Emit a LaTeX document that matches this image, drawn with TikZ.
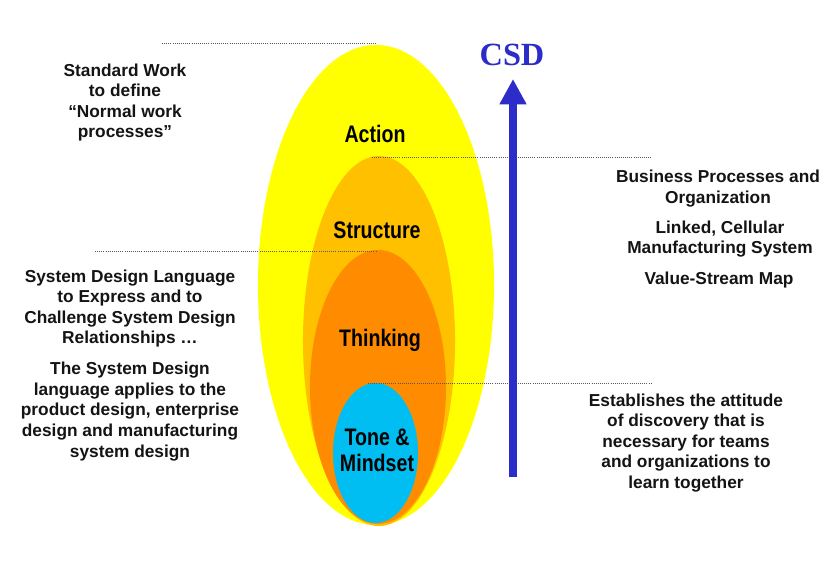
\documentclass[tikz,border=0pt]{standalone}
\usepackage{fontspec}
\setmainfont{Liberation Sans}
\newfontfamily\narrowsans[FakeStretch=0.82]{Liberation Sans}
\newfontfamily\csdserif{Liberation Serif}
\usepackage{xcolor}
\usepackage{tikz}
\usetikzlibrary{
  arrows.meta,
  calc
}
\definecolor{csdblue}{RGB}{44,44,200}
\definecolor{actionyellow}{RGB}{255,255,0}
\definecolor{structorange}{RGB}{255,192,0}
\definecolor{thinkorange}{RGB}{255,140,0}
\definecolor{tonecyan}{RGB}{0,190,242}
\definecolor{notegray}{RGB}{20,20,20}
\tikzset{
  note/.style={
    align=center,
    text=notegray,
    font=\fontsize{12.3}{14.6}\selectfont\bfseries},
  layer/.style={
    align=center,
    font=\narrowsans\fontsize{17}{18.5}\selectfont\bfseries},
  leader/.style={
    densely dotted,
    line width=0.5pt,
    gray!70!black},
  csd/.style={
    -{Triangle[width=18pt,length=18pt]},
    line width=5pt,
    csdblue}
  }

\begin{document}
\begin{tikzpicture}[x=0.025cm, y=-0.025cm]
      \useasboundingbox[fill=white] (0,0) rectangle (840,580);
      \fill[actionyellow] (376,285) ellipse [x radius=2.95cm, y radius=6cm];
      \fill[structorange] (379,341) ellipse [x radius=1.9cm, y radius=4.625cm];
      \fill[thinkorange] (378,387) ellipse [x radius=1.7cm, y radius=3.425cm];
      \fill[tonecyan] (375.5,453) ellipse [x radius=1.0625cm, y radius=1.75cm];
      \node[layer] (action) at (375,134) {Action};
      \node[layer] (structure) at (377,230) {Structure};
      \node[layer] (thinking) at (380,340) {Thinking};
      \node[layer] (tone) at (377,450) {Tone \&\\Mindset};
      \node[note] (stdwork) at (125,102.5) {Standard Work\\to define\\``Normal work\\processes''};
      \node[note] (sdl) at (130,308.5) {System Design Language\\to Express and to\\Challenge System Design\\Relationships \dots};
      \node[note] (sdlapp) at (130,411.5) {The System Design\\language applies to the\\product design, enterprise\\design and manufacturing\\system design};
      \node[note] (bizproc) at (718,188.5) {Business Processes and\\Organization};
      \node[note] (linked) at (720,239) {Linked, Cellular\\Manufacturing System};
      \node[note] (vsm) at (719,280) {Value-Stream Map};
      \node[note] (attitude) at (686,443) {Establishes the attitude\\of discovery that is\\necessary for teams\\and organizations to\\learn together};
      \node[text=csdblue, font=\csdserif\fontsize{23}{25}\selectfont\bfseries] (csdlabel) at (512,55) {CSD};
      \coordinate (arrbot) at (513,477);
      \coordinate (arrtop) at (513,79);
      \coordinate (l1a) at (162,43);
      \coordinate (l1b) at (377,43);
      \coordinate (l2a) at (372,157);
      \coordinate (l2b) at (652,157);
      \coordinate (l3a) at (95,251);
      \coordinate (l3b) at (376,251);
      \coordinate (l4a) at (368,383);
      \coordinate (l4b) at (652,383);
      \draw [leader]
      (l1a) edge[] (l1b)
      (l2a) edge[] (l2b)
      (l3a) edge[] (l3b)
      (l4a) edge[] (l4b);
      \draw [csd] (arrbot) -- (arrtop);
    \end{tikzpicture}
\end{document}
